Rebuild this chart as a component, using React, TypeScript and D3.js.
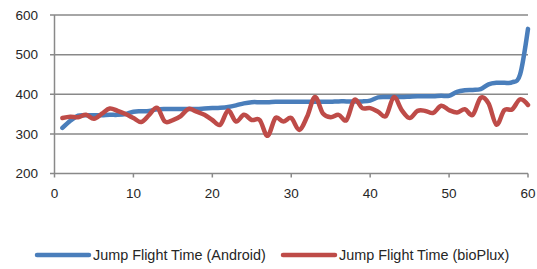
import React from "react";
import * as d3 from "d3";

const xValues: number[] = d3.range(1, 61);
const androidValues: number[] = [
  315, 333, 346, 347, 347, 347, 348, 348, 350, 356,
  357, 358, 362, 363, 363, 363, 363, 363, 364, 365,
  366, 368, 372, 377, 380, 380, 380, 381, 381, 381,
  381, 381, 381, 381, 381, 382, 382, 382, 382, 384,
  392, 393, 393, 393, 394, 395, 395, 395, 396, 396,
  406, 410, 411, 413, 425, 429, 429, 430, 450, 565,
];
const bioPluxValues: number[] = [
  340, 343, 342, 348, 338, 351, 364, 358, 350, 340,
  330, 348, 366, 331, 335, 345, 363, 356, 348, 335,
  323, 359, 331, 348, 335, 335, 295, 340, 331, 340,
  310, 343, 393, 352, 342, 348, 335, 386, 365, 365,
  356, 345, 393, 360, 340, 358, 358, 353, 371, 360,
  354, 362, 348, 391, 377, 323, 360, 362, 387, 373,
];
const yTicks: number[] = [200, 300, 400, 500, 600];
const xTicks: number[] = [0, 10, 20, 30, 40, 50, 60];
const seriesNames: string[] = ["Jump Flight Time (Android)", "Jump Flight Time (bioPlux)"];
const seriesColors: string[] = ["#4A7EBB", "#BE4B48"];

export default function App() {
  const W = 537, H = 269;
  const x = d3.scaleLinear().domain([0, 60]).range([54.5, 528]);
  const y = d3.scaleLinear().domain([200, 600]).range([173.5, 15]);
  const line = d3
    .line<number>()
    .x((_, i) => x(xValues[i]))
    .y((d) => y(d))
    .curve(d3.curveCatmullRom.alpha(0));
  const series = [androidValues, bioPluxValues];
  const font = "'Liberation Sans', Arial, sans-serif";
  const gridColor = "#898989";
  const legendItems = [
    { lx: 37, tx: 93 },
    { lx: 283, tx: 339 },
  ];
  return (
    <svg
      width={W}
      height={H}
      style={{ position: "absolute", left: 0, top: 0, background: "#fff" }}
    >
      {yTicks.map((t) => (
        <g key={t}>
          <line x1={50} x2={528} y1={y(t)} y2={y(t)} stroke={gridColor} strokeWidth={1.5} />
          <text
            x={38}
            y={y(t)}
            dy="0.35em"
            textAnchor="end"
            fontFamily={font}
            fontSize={13.5}
            fill="#262626"
          >
            {t}
          </text>
        </g>
      ))}
      <line x1={x(0)} x2={x(0)} y1={y(600)} y2={y(200)} stroke={gridColor} strokeWidth={1.5} />
      {xTicks.map((t) => (
        <g key={t}>
          <line x1={x(t)} x2={x(t)} y1={y(200)} y2={y(200) + 4} stroke={gridColor} strokeWidth={1.5} />
          <text
            x={x(t)}
            y={193}
            dy="0.35em"
            textAnchor="middle"
            fontFamily={font}
            fontSize={13.5}
            fill="#262626"
          >
            {t}
          </text>
        </g>
      ))}
      {series.map((s, i) => (
        <path
          key={i}
          d={line(s) || ""}
          fill="none"
          stroke={seriesColors[i]}
          strokeWidth={4.5}
          strokeLinejoin="round"
          strokeLinecap="round"
        />
      ))}
      {legendItems.map((it, i) => (
        <g key={i}>
          <line
            x1={it.lx}
            x2={it.lx + 52}
            y1={255}
            y2={255}
            stroke={seriesColors[i]}
            strokeWidth={4.5}
            strokeLinecap="round"
          />
          <text
            x={it.tx}
            y={255}
            dy="0.35em"
            fontFamily={font}
            fontSize={14.4}
            fill="#262626"
          >
            {seriesNames[i]}
          </text>
        </g>
      ))}
    </svg>
  );
}
